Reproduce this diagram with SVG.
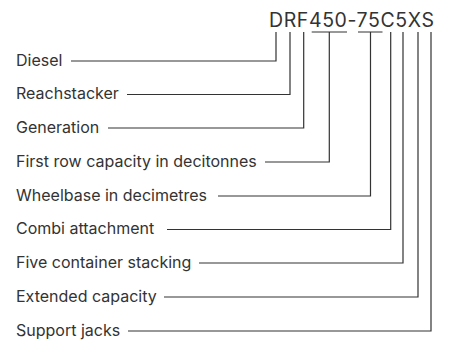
<svg xmlns="http://www.w3.org/2000/svg" width="453" height="340" viewBox="0 0 453 340">
<style>
.lbl{font-family:Inter,"Noto Sans",sans-serif;font-size:16px;fill:#333}
.code{font-family:Inter,"Noto Sans",sans-serif;font-size:19.5px;fill:#333;letter-spacing:0.6px}
.ln{fill:none;stroke:#333;stroke-width:1.2}
</style>
<rect width="453" height="340" fill="#fff"/>
<g id="code"><text class="code" x="269" y="27">DRF450-75C5XS</text></g>
<g id="labels">
<g id="n1"><text class="lbl" x="16" y="65.5">Diesel</text></g>
<g id="n2"><text class="lbl" x="16" y="99">Reachstacker</text></g>
<g id="n3"><text class="lbl" x="16" y="132.5">Generation</text></g>
<g id="n4"><text class="lbl" x="16" y="166.5">First row capacity in decitonnes</text></g>
<g id="n5"><text class="lbl" x="16" y="200.5">Wheelbase in decimetres</text></g>
<g id="n6"><text class="lbl" x="16" y="234">Combi attachment</text></g>
<g id="n7"><text class="lbl" x="16" y="267.5">Five container stacking</text></g>
<g id="n8"><text class="lbl" x="16" y="301.5">Extended capacity</text></g>
<g id="n9"><text class="lbl" x="16" y="335.5">Support jacks</text></g>
</g>
<g id="connectors" class="ln">
<path d="M71 61H276V32"/>
<path d="M127 94.5H290V32"/>
<path d="M108 128H303.7V32"/>
<path d="M265 162H329.3V32M311.7 32H347"/>
<path d="M218 196H370.5V32M358 32H382.5"/>
<path d="M167 229.5H390.7V32"/>
<path d="M199 263H403V32"/>
<path d="M164 297H418V32"/>
<path d="M128 331H431V32"/>
</g>
</svg>
